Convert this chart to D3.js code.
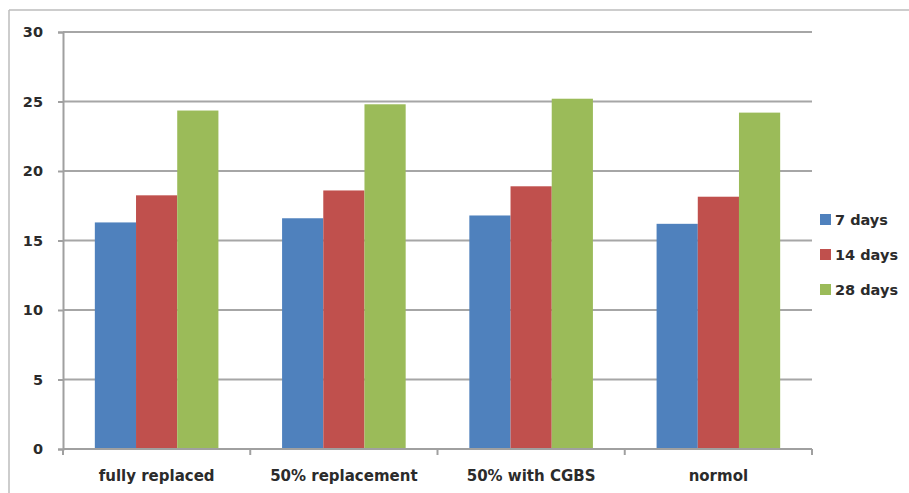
<!DOCTYPE html>
<html>
<head>
<meta charset="utf-8">
<script src="https://cdn.jsdelivr.net/npm/d3@7"></script>
<style>
  html, body { margin: 0; padding: 0; background: #fff; }
  svg { display: block; }
  text { font-family: "DejaVu Sans", sans-serif; font-weight: 700; fill: #2b2b2b; }
</style>
</head>
<body>
<svg id="chart" width="909" height="493"></svg>
<script>
// Compressive strength by curing age
const categories = ["fully replaced", "50% replacement", "50% with CGBS", "normol"];
const seriesNames = ["7 days", "14 days", "28 days"];
const days7  = [16.3, 16.6, 16.8, 16.2];
const days14 = [18.25, 18.6, 18.9, 18.15];
const days28 = [24.35, 24.8, 25.2, 24.2];
const yTicks = [0, 5, 10, 15, 20, 25, 30];
const colors = ["#4F81BD", "#C0504D", "#9BBB59"];

const seriesValues = [days7, days14, days28];

const svg = d3.select("#chart");
const margin = { left: 63, right: 97, top: 32, bottom: 44 };
const W = 909, H = 493;

// outer frame (top and left edges visible)
svg.append("line").attr("x1", 9).attr("x2", W).attr("y1", 10).attr("y2", 10)
  .attr("stroke", "#bdbdbd").attr("stroke-width", 1.5);
svg.append("line").attr("x1", 9).attr("x2", 9).attr("y1", 10).attr("y2", H)
  .attr("stroke", "#bdbdbd").attr("stroke-width", 1.5);

const x0 = d3.scaleBand().domain(categories)
  .range([margin.left, W - margin.right]).paddingInner(0.34).paddingOuter(0.17);
const x1 = d3.scaleBand().domain(seriesNames).range([0, x0.bandwidth()]);
const y = d3.scaleLinear().domain([0, 30]).range([H - margin.bottom, margin.top]);

// horizontal gridlines
svg.append("g").selectAll("line").data(yTicks.filter(t => t > 0)).join("line")
  .attr("x1", margin.left).attr("x2", W - margin.right)
  .attr("y1", d => y(d)).attr("y2", d => y(d))
  .attr("stroke", "#a6a6a6").attr("stroke-width", 2);

// bars
const groups = svg.append("g").selectAll("g").data(categories).join("g")
  .attr("transform", c => `translate(${x0(c)},0)`);
groups.selectAll("rect")
  .data((c, i) => seriesNames.map((s, k) => ({ s, k, v: seriesValues[k][i] })))
  .join("rect")
  .attr("x", d => x1(d.s))
  .attr("width", x1.bandwidth())
  .attr("y", d => y(d.v))
  .attr("height", d => y(0) - y(d.v))
  .attr("fill", d => colors[d.k]);

// y axis
const yAxis = svg.append("g").attr("transform", `translate(${margin.left},0)`)
  .call(d3.axisLeft(y).tickValues(yTicks).tickSize(5).tickPadding(15));
yAxis.select(".domain").attr("stroke", "#a0a0a0").attr("stroke-width", 2);
yAxis.selectAll(".tick line").attr("stroke", "#a0a0a0").attr("stroke-width", 2);
yAxis.selectAll("text").attr("font-size", 14.5).attr("font-family", "DejaVu Sans")
  .attr("font-weight", 700).style("fill", "#2b2b2b");

// x axis with ticks between categories
const xStart = margin.left, xEnd = W - margin.right;
const xa = svg.append("g");
xa.append("line").attr("x1", xStart).attr("x2", xEnd)
  .attr("y1", y(0)).attr("y2", y(0)).attr("stroke", "#a0a0a0").attr("stroke-width", 2);
xa.selectAll(".sep").data(d3.range(categories.length + 1)).join("line")
  .attr("class", "sep")
  .attr("x1", i => xStart + i * (xEnd - xStart) / categories.length)
  .attr("x2", i => xStart + i * (xEnd - xStart) / categories.length)
  .attr("y1", y(0)).attr("y2", y(0) + 6)
  .attr("stroke", "#a0a0a0").attr("stroke-width", 2);
xa.selectAll("text").data(categories).join("text")
  .attr("x", c => x0(c) + x0.bandwidth() / 2)
  .attr("y", y(0) + 32)
  .attr("text-anchor", "middle")
  .attr("font-size", 15)
  .text(c => c);

// legend
const legend = svg.append("g").attr("transform", "translate(820,220)");
const li = legend.selectAll("g").data(seriesNames).join("g")
  .attr("transform", (d, i) => `translate(0,${i * 35})`);
li.append("rect").attr("x", 0).attr("y", -6).attr("width", 11).attr("height", 11)
  .attr("fill", (d, i) => colors[i]);
li.append("text").attr("x", 15).attr("y", 0).attr("dy", "0.35em")
  .attr("font-size", 14.5).text(d => d);
</script>
</body>
</html>
